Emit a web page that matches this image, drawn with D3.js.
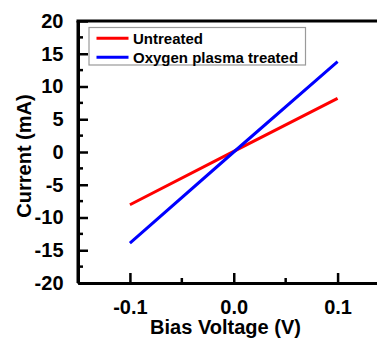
<!DOCTYPE html>
<html>
<head>
<meta charset="utf-8">
<script src="https://cdn.jsdelivr.net/npm/d3@7"></script>
<style>
  body { margin: 0; background: #fff; }
  svg { display: block; font-family: Arial, "Liberation Sans", sans-serif; font-weight: bold; }
</style>
</head>
<body>
<div id="chart"></div>
<script>
const voltages = [-0.1, 0.0, 0.1]
const untreated = [-8.05, 0.1, 8.2]
const oxygenTreated = [-13.9, 0.0, 13.8]
const seriesNames = ["Untreated", "Oxygen plasma treated"]
const seriesColors = ["#ff0000", "#0000ff"]
const yTicks = [-20, -15, -10, -5, 0, 5, 10, 15, 20]
const xTicks = [-0.1, 0.0, 0.1]

const W = 377, H = 340
const X0 = 78, X1 = 389.5
const Y0 = 283, Y1 = 21

const svg = d3.select("#chart").append("svg")
  .attr("width", W).attr("height", H)

const x = d3.scaleLinear().domain([-0.15, 0.15]).range([X0, X1])
const y = d3.scaleLinear().domain([-20, 20]).range([Y0, Y1])

// data lines
const series = [untreated, oxygenTreated]
const line = d3.line()
  .x((d, i) => x(voltages[i]))
  .y(d => y(d))

svg.selectAll("path.data-line")
  .data(series)
  .enter()
  .append("path")
  .attr("class", "data-line")
  .attr("d", d => line(d))
  .attr("fill", "none")
  .attr("stroke", (d, i) => seriesColors[i])
  .attr("stroke-width", 3)

// minor ticks
const yMinor = d3.range(-17.5, 20, 5)
svg.selectAll("line.y-minor")
  .data(yMinor)
  .enter()
  .append("line")
  .attr("x1", X0).attr("x2", X0 + 5)
  .attr("y1", d => y(d)).attr("y2", d => y(d))
  .attr("stroke", "#000").attr("stroke-width", 2.5)

svg.selectAll("line.x-minor")
  .data([-0.05, 0.05])
  .enter()
  .append("line")
  .attr("x1", d => x(d)).attr("x2", d => x(d))
  .attr("y1", Y0).attr("y2", Y0 - 5)
  .attr("stroke", "#000").attr("stroke-width", 2.5)

// axes
const yAxis = d3.axisLeft(y).tickValues(yTicks).tickSizeInner(-10).tickSizeOuter(0)
const yAxisGroup = svg.append("g")
  .attr("transform", `translate(${X0},0)`)
  .call(yAxis)

const xAxis = d3.axisBottom(x).tickValues(xTicks).tickSizeInner(-10).tickSizeOuter(0)
  .tickFormat(d3.format(".1f"))
const xAxisGroup = svg.append("g")
  .attr("transform", `translate(0,${Y0})`)
  .call(xAxis)

for (const g of [xAxisGroup, yAxisGroup]) {
  g.select(".domain").attr("stroke", "#000").attr("stroke-width", 3)
  g.selectAll(".tick line").attr("stroke", "#000").attr("stroke-width", 2.5)
  g.selectAll(".tick text").attr("fill", "#000")
    .style("font-size", "20px").style("font-weight", "bold")
    .style("font-family", "Arial, 'Liberation Sans', sans-serif")
}
yAxisGroup.selectAll(".tick text").attr("x", -14.5).text(d => String(d))
xAxisGroup.selectAll(".tick text").attr("y", 17)
  .text(d => d3.format(".1f")(d).replace("−", "-"))

// frame lines
svg.append("line")
  .attr("x1", X0 - 1.5).attr("x2", W)
  .attr("y1", Y1).attr("y2", Y1)
  .attr("stroke", "#000").attr("stroke-width", 3)
svg.append("line")
  .attr("x1", X0).attr("x2", X0)
  .attr("y1", Y1).attr("y2", Y0)
  .attr("stroke", "#000").attr("stroke-width", 3)

// axis titles
svg.append("text")
  .attr("x", 225.5).attr("y", 334)
  .attr("text-anchor", "middle")
  .style("font-size", "20px")
  .text("Bias Voltage (V)")

svg.append("text")
  .attr("transform", `translate(31,156)rotate(-90)`)
  .attr("text-anchor", "middle")
  .style("font-size", "20px")
  .text("Current (mA)")

// legend
const legend = svg.append("g")
legend.append("rect")
  .attr("x", 89).attr("y", 27.5)
  .attr("width", 216.5).attr("height", 37.5)
  .attr("fill", "#fff").attr("stroke", "#9a9a9a").attr("stroke-width", 1.2)

const items = legend.selectAll("g.item")
  .data(seriesNames)
  .enter()
  .append("g")
  .attr("transform", (d, i) => `translate(0,${38.3 + i * 19})`)

items.append("line")
  .attr("x1", 96.5).attr("x2", 128.5)
  .attr("stroke", (d, i) => seriesColors[i])
  .attr("stroke-width", 3)

items.append("text")
  .attr("x", 133).attr("y", 5.3)
  .style("font-size", "15px")
  .text(d => d)
</script>
</body>
</html>
